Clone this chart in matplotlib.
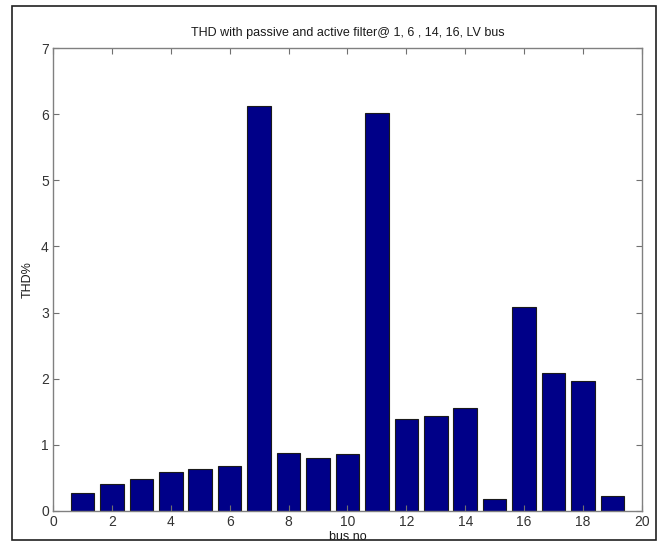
import matplotlib.pyplot as plt
from matplotlib.patches import Rectangle

plt.rcParams['font.family'] = ['Liberation Sans', 'DejaVu Sans']

bus = list(range(1, 20))
thd = [0.27, 0.41, 0.48, 0.59, 0.63, 0.68, 6.13, 0.87, 0.80, 0.86,
       6.01, 1.39, 1.43, 1.55, 0.18, 3.09, 2.08, 1.96, 0.23]
xticks = list(range(0, 21, 2))
yticks = list(range(0, 8))

fig = plt.figure(figsize=(6.57, 5.42), dpi=100)
ax = fig.add_axes([0.0807, 0.0572, 0.8963, 0.8542])

ax.bar(bus, thd, width=0.8, color='#000088', edgecolor='#1a1a1a', linewidth=0.8)

ax.set_xlim(0, 20)
ax.set_ylim(0, 7)
ax.set_xticks(xticks)
ax.set_yticks(yticks)
ax.tick_params(direction='in', length=4, width=0.8, color='#707070',
               top=True, right=True, labelsize=10, labelcolor='#333333', pad=3)
for sp in ax.spines.values():
    sp.set_color('#808080')
    sp.set_linewidth(1.0)

ax.set_title('THD with passive and active filter@ 1, 6 , 14, 16, LV bus',
             fontsize=9, color='#1a1a1a', pad=9)
ax.set_xlabel('bus no', fontsize=9, color='#1a1a1a', labelpad=1)
ax.set_ylabel('THD%', fontsize=9, color='#1a1a1a', labelpad=5)

# outer frame around the whole figure
fig.patches.append(Rectangle((12 / 657, 2 / 542), 644 / 657, 534 / 542,
                             transform=fig.transFigure, fill=False,
                             edgecolor='#202020', linewidth=1.2))

fig.savefig('out.png', dpi=100)
